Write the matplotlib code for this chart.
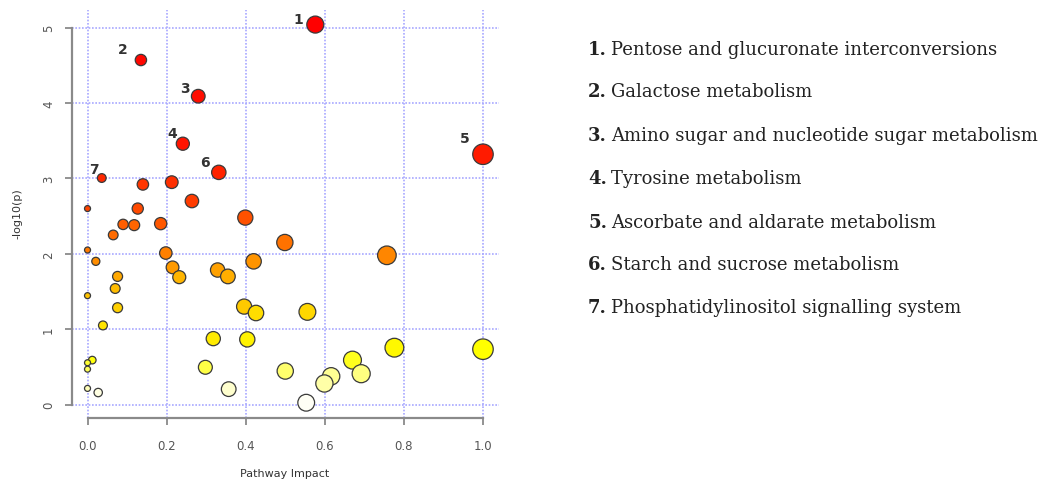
import numpy as np
import matplotlib
matplotlib.use("Agg")
import matplotlib.pyplot as plt
from matplotlib.colors import hsv_to_rgb

# ---- data ----
impact = [0.576, 0.135, 0.280, 0.241, 1.000, 0.332, 0.036, 0.213, 0.140, 0.264,
          0.000, 0.127, 0.399, 0.185, 0.090, 0.118, 0.065, 0.499, 0.000, 0.198,
          0.757, 0.021, 0.420, 0.215, 0.329, 0.076, 0.355, 0.232, 0.070, 0.000,
          0.396, 0.076, 0.556, 0.426, 0.039, 0.318, 0.404, 0.776, 1.000, 0.012,
          0.670, 0.000, 0.298, 0.000, 0.500, 0.692, 0.616, 0.599, 0.000, 0.357,
          0.027, 0.553]
neglogp = [5.04, 4.57, 4.09, 3.46, 3.32, 3.08, 3.005, 2.95, 2.92, 2.70,
           2.60, 2.60, 2.48, 2.40, 2.39, 2.38, 2.25, 2.15, 2.05, 2.01,
           1.98, 1.90, 1.90, 1.82, 1.785, 1.70, 1.70, 1.69, 1.54, 1.445,
           1.30, 1.285, 1.23, 1.215, 1.05, 0.875, 0.865, 0.755, 0.735, 0.59,
           0.59, 0.555, 0.495, 0.47, 0.445, 0.41, 0.375, 0.28, 0.215, 0.205,
           0.16, 0.025]
label_ids = ["1", "2", "3", "4", "5", "6", "7"]
pathways = ["Pentose and glucuronate interconversions",
            "Galactose metabolism",
            "Amino sugar and nucleotide sugar metabolism",
            "Tyrosine metabolism",
            "Ascorbate and aldarate metabolism",
            "Starch and sucrose metabolism",
            "Phosphatidylinositol signalling system"]
x_ticks = [0.0, 0.2, 0.4, 0.6, 0.8, 1.0]
x_tick_labels = ["0.0", "0.2", "0.4", "0.6", "0.8", "1.0"]
y_ticks = [0, 1, 2, 3, 4, 5]
y_tick_labels = ["0", "1", "2", "3", "4", "5"]

# ---- style helpers ----
def heat_colors(n):
    j = n // 4
    i = n - j
    cols = [hsv_to_rgb((h, 1.0, 1.0)) for h in np.linspace(0, 1 / 6, i)]
    if j > 0:
        for s in np.linspace(1 - 1 / (2 * j), 1 / (2 * j), j):
            cols.append(hsv_to_rgb((1 / 6, s, 1.0)))
    return cols

x = np.array(impact)
y = np.array(neglogp)
n = len(x)
order = np.argsort(-y, kind="stable")
palette = heat_colors(n)
colors = [None] * n
for rank, idx in enumerate(order):
    colors[idx] = palette[rank]

diam_px = 6 + 14.5 * np.sqrt(x)
sizes = (diam_px * 0.72) ** 2

W, H = 1054, 481
fig = plt.figure(figsize=(W / 100, H / 100), dpi=100)
left_px, right_px, top_px, bot_px = 71.7, 498.8, 10.5, 418.8
ax = fig.add_axes([left_px / W, 1 - bot_px / H, (right_px - left_px) / W, (bot_px - top_px) / H])

ax.set_xlim(-0.04, 1.04)
ax.set_ylim(-0.175, 5.24)
ax.set_xticks(x_ticks)
ax.set_xticklabels(x_tick_labels)
ax.set_yticks(y_ticks)
ax.set_yticklabels(y_tick_labels, rotation=90, va="center")
ax.grid(True, color="#a8a8ff", linestyle=(0, (1.0, 1.0)), linewidth=1.2)
ax.set_axisbelow(True)

for sp in ["top", "right"]:
    ax.spines[sp].set_visible(False)
ax.spines["left"].set_bounds(0, 5)
ax.spines["bottom"].set_bounds(0, 1)
for sp in ["left", "bottom"]:
    ax.spines[sp].set_color("#8a8a8a")
    ax.spines[sp].set_linewidth(1.6)
ax.tick_params(axis="both", direction="out", length=5, width=1.3, color="#8a8a8a",
               labelsize=8.5, labelcolor="#555555")
ax.tick_params(axis="x", pad=10)
ax.tick_params(axis="y", pad=7)

ax.scatter(x, y, s=sizes, c=colors, edgecolors="#3a3a3a", linewidths=0.9, zorder=3)

# numbered labels
offsets_px = [(-17, 6), (-18, 11), (-13, 8), (-11, 11), (-18, 16), (-14, 10), (-8, 9)]
for k, lab in enumerate(label_ids):
    dx, dy = offsets_px[k]
    ax.annotate(lab, (x[k], y[k]), xytext=(dx * 0.72, dy * 0.72), textcoords="offset points",
                ha="center", va="center", fontsize=10, fontweight="bold", color="#333333", zorder=4)

fig.text(285 / W, 1 - 474 / H, "Pathway Impact", ha="center", va="center", fontsize=8, color="#333333")
fig.text(17 / W, 1 - 214 / H, "-log10(p)", ha="center", va="center", rotation=90, fontsize=8, color="#333333")

# legend text
line_y = [50, 92, 136, 179, 222.5, 265, 308]
for k, (lab, name) in enumerate(zip(label_ids, pathways)):
    fy = 1 - line_y[k] / H
    fig.text(588 / W, fy, lab + ".", ha="left", va="center", fontsize=13,
             fontweight="bold", family="DejaVu Serif", color="#222222")
    fig.text(611 / W, fy, name, ha="left", va="center", fontsize=13,
             family="DejaVu Serif", color="#222222")

fig.savefig("out.png", dpi=100)
